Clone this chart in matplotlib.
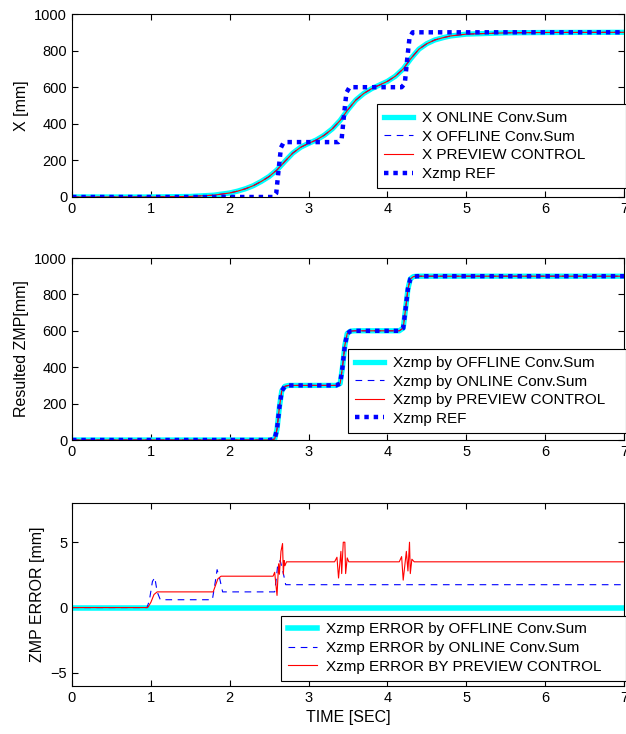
import matplotlib.pyplot as plt

plt.rcParams['font.family'] = ['Liberation Sans', 'DejaVu Sans']
plt.rcParams['font.size'] = 10.5

# --- top panel: CoM trajectory X [mm] vs time [sec]
t_x = [0, 1.0, 1.5, 1.8, 2.0, 2.1, 2.2, 2.3, 2.4, 2.5, 2.6, 2.7, 2.8, 2.9, 3.0,
       3.1, 3.2, 3.3, 3.4, 3.5, 3.6, 3.7, 3.8, 3.9, 4.0, 4.1, 4.2, 4.3, 4.4,
       4.5, 4.6, 4.7, 4.8, 5.0, 5.5, 6.0, 7.0]
x_com = [0, 0, 3, 10, 22, 32, 45, 62, 85, 112, 148, 195, 240, 272, 293,
         312, 338, 372, 418, 478, 530, 566, 592, 612, 632, 660, 700, 758, 808,
         838, 858, 870, 880, 890, 897, 899, 900]

# reference ZMP (step pattern)
t_ref = [0, 2.55, 2.59, 2.62, 2.65, 2.68, 2.72, 3.38, 3.42, 3.45, 3.48, 3.52,
         4.18, 4.22, 4.25, 4.28, 4.32, 7.0]
zmp_ref = [0, 0, 20, 150, 270, 295, 300, 300, 320, 450, 570, 600,
           600, 620, 750, 870, 900, 900]

# --- middle panel: resulted ZMP
t_zmp = [0, 2.5, 2.57, 2.6, 2.63, 2.66, 2.7, 2.75, 3.35, 3.4, 3.43, 3.46, 3.49,
         3.53, 3.58, 4.15, 4.2, 4.23, 4.26, 4.29, 4.33, 4.38, 7.0]
zmp_res = [0, 0, 5, 60, 180, 270, 295, 300, 300, 310, 400, 520, 585,
           598, 600, 600, 615, 720, 830, 885, 898, 900, 900]

# --- bottom panel: ZMP errors [mm]
t_err_off = [0, 7.0]
err_off = [0, 0]

t_err_on = [0, 0.95, 0.98, 1.02, 1.05, 1.08, 1.12, 1.78, 1.81, 1.84, 1.87, 1.91,
            2.57, 2.59, 2.61, 2.64, 2.67, 2.71, 7.0]
err_on = [0, 0, 0.5, 2.0, 2.3, 1.2, 0.6, 0.6, 1.7, 2.9, 2.3, 1.2,
          1.2, 2.2, 3.35, 3.6, 2.9, 1.75, 1.75]

t_err_pc = [0, 0.96, 1.0, 1.04, 1.08, 1.79, 1.82, 1.85, 1.89, 2.55, 2.57, 2.60,
            2.62, 2.63, 2.65, 2.67, 2.68, 2.69, 2.70, 2.72, 3.33, 3.36, 3.38,
            3.41, 3.42, 3.44, 3.46, 3.47, 3.49, 3.51, 4.15, 4.18, 4.20, 4.24,
            4.26, 4.28, 4.29, 4.31, 4.34, 7.0]
err_pc = [0, 0, 0.4, 1.0, 1.2, 1.2, 1.7, 2.2, 2.4, 2.4, 2.7, 0.93,
          3.35, 2.55, 4.3, 4.9, 2.55, 3.6, 3.2, 3.5, 3.5, 3.85, 2.26,
          4.3, 2.6, 5.0, 5.0, 2.6, 3.8, 3.5, 3.5, 3.9, 2.1, 4.3,
          2.8, 5.0, 2.6, 3.7, 3.5, 3.5]

CYAN = '#00ffff'
BLUE = '#0000ff'
RED = '#ff0000'
ref_style = dict(color=BLUE, lw=3.2, linestyle=(0, (1, 1.1)))

W, H = 626, 734
fig = plt.figure(figsize=(W / 100, H / 100), dpi=100)


def make_axes(top, bottom):
    ax = fig.add_axes([72 / W, 1 - bottom / H, (624 - 72) / W, (bottom - top) / H])
    ax.tick_params(direction='in', top=True, right=True, length=4, labelsize=10.5)
    for s in ax.spines.values():
        s.set_linewidth(0.8)
    ax.set_xlim(0, 7)
    ax.set_xticks(range(8))
    return ax


def add_legend(ax, x0, y0):
    leg = ax.legend(loc='lower left', mode='expand',
                    bbox_to_anchor=(x0, y0, 1.004 - x0, 0.1),
                    frameon=True, fancybox=False, framealpha=1,
                    edgecolor='black', borderaxespad=0, borderpad=0.45,
                    labelspacing=0.3, handlelength=1.9, handletextpad=0.6,
                    fontsize=11)
    leg.get_frame().set_linewidth(0.8)


# top panel
ax1 = make_axes(14, 197)
ax1.plot(t_x, x_com, color=CYAN, lw=3.8, label='X ONLINE Conv.Sum')
ax1.plot(t_x, x_com, color=BLUE, lw=0.8, linestyle=(0, (6, 5)), label='X OFFLINE Conv.Sum')
ax1.plot(t_x, x_com, color=RED, lw=0.8, label='X PREVIEW CONTROL')
ax1.plot(t_ref, zmp_ref, label='Xzmp REF', **ref_style)
ax1.set_ylim(0, 1000)
ax1.set_yticks(range(0, 1001, 200))
ax1.set_ylabel('X [mm]', fontsize=11.5)
add_legend(ax1, 0.553, 0.05)

# middle panel
ax2 = make_axes(258, 440)
ax2.plot(t_zmp, zmp_res, color=CYAN, lw=3.8, label='Xzmp by OFFLINE Conv.Sum')
ax2.plot(t_zmp, zmp_res, color=BLUE, lw=0.8, linestyle=(0, (6, 5)), label='Xzmp by ONLINE Conv.Sum')
ax2.plot(t_zmp, zmp_res, color=RED, lw=0.8, label='Xzmp by PREVIEW CONTROL')
ax2.plot(t_zmp, zmp_res, label='Xzmp REF', **ref_style)
ax2.set_ylim(0, 1000)
ax2.set_yticks(range(0, 1001, 200))
ax2.set_ylabel('Resulted ZMP[mm]', fontsize=11.5)
add_legend(ax2, 0.5, 0.04)

# bottom panel
ax3 = make_axes(503, 686)
ax3.plot(t_err_off, err_off, color=CYAN, lw=4, label='Xzmp ERROR by OFFLINE Conv.Sum')
ax3.plot(t_err_on, err_on, color=BLUE, lw=0.8, linestyle=(0, (6, 5)), label='Xzmp ERROR by ONLINE Conv.Sum')
ax3.plot(t_err_pc, err_pc, color=RED, lw=0.8, label='Xzmp ERROR BY PREVIEW CONTROL')
ax3.set_ylim(-6, 8)
ax3.set_yticks([-5, 0, 5])
ax3.set_ylabel('ZMP ERROR [mm]', fontsize=11.5)
ax3.set_xlabel('TIME [SEC]', fontsize=11.5)
add_legend(ax3, 0.379, 0.03)

fig.savefig('out.png', dpi=100)
